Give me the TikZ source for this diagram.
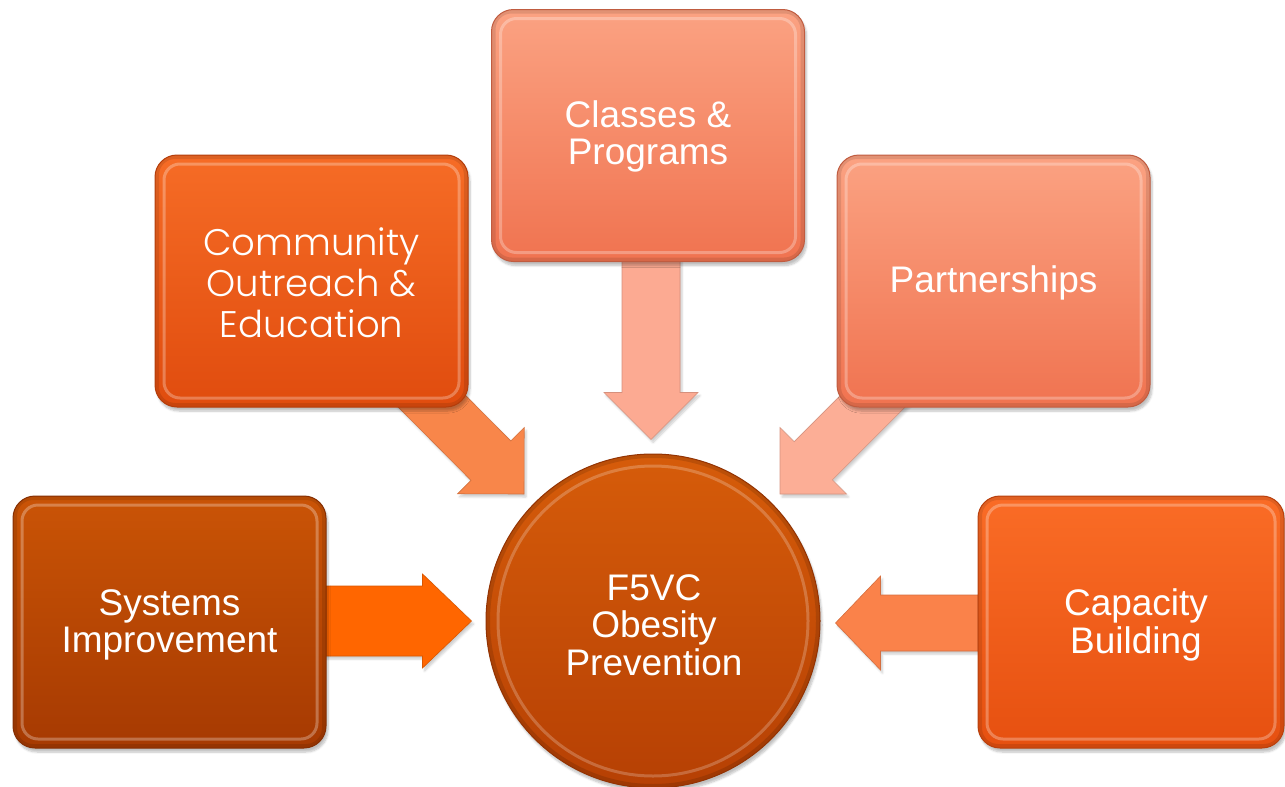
\documentclass[tikz,border=0pt]{standalone}
\usepackage{fontspec}
\setmainfont{Liberation Sans}
\newfontfamily\gothic{Poppins Light}
\usetikzlibrary{calc,shadows.blur}
\pgfdeclarelayer{background}
\pgfsetlayers{background,main}

\definecolor{comTop}{RGB}{246,108,38}
\definecolor{comBot}{RGB}{224,76,14}
\definecolor{claTop}{RGB}{251,162,130}
\definecolor{claBot}{RGB}{240,115,80}
\definecolor{sysTop}{RGB}{202,84,6}
\definecolor{sysBot}{RGB}{166,58,2}
\definecolor{capTop}{RGB}{250,108,38}
\definecolor{capBot}{RGB}{230,80,16}
\definecolor{hubTop}{RGB}{214,92,10}
\definecolor{hubBot}{RGB}{182,64,4}
\definecolor{arrSys}{RGB}{255,102,0}
\definecolor{arrCap}{RGB}{250,130,74}
\definecolor{arrCom}{RGB}{248,134,74}
\definecolor{arrCla}{RGB}{252,170,146}
\definecolor{arrPar}{RGB}{252,174,150}

\tikzset{
  boxshape/.style args={#1/#2}{
    rectangle, rounded corners=22pt, inner sep=0pt,
    minimum width=313pt, minimum height=252pt,
    top color=#1, bottom color=#2, draw=#2!80!black, line width=1pt,
    blur shadow={shadow xshift=2pt, shadow yshift=-4pt, shadow opacity=25, shadow blur steps=6},
    path picture={
      \draw[white, opacity=0.28, line width=3pt, rounded corners=16pt]
        ([shift={(9pt,-9pt)}]path picture bounding box.north west) rectangle
        ([shift={(-9pt,9pt)}]path picture bounding box.south east);
      \draw[black, opacity=0.10, line width=8pt, rounded corners=20pt]
        (path picture bounding box.north west) rectangle
        (path picture bounding box.south east);
    }
  },
  hubshape/.style={
    circle, inner sep=0pt, minimum size=334pt,
    top color=hubTop, bottom color=hubBot, draw=hubBot!80!black, line width=1pt,
    blur shadow={shadow xshift=2pt, shadow yshift=-4pt, shadow opacity=25, shadow blur steps=6},
    path picture={
      \draw[white, opacity=0.22, line width=3pt]
        (path picture bounding box.center) circle[radius=155pt];
      \draw[black, opacity=0.12, line width=8pt]
        (path picture bounding box.center) circle[radius=167pt];
    }
  },
  lbl/.style={align=center, text=white, inner sep=0pt,
    font=\fontsize{37}{37.5}\selectfont},
  blockarrow/.style={fill=#1, draw=#1!85!black, line width=0.6pt,
    blur shadow={shadow xshift=2pt, shadow yshift=-3pt, shadow opacity=20, shadow blur steps=5}}
}

% #1 start, #2 tip, #3 shaft half width, #4 head half width, #5 head length, #6 colour
\newcommand\blockarr[6]{%
  \coordinate (ba-h) at ($(#2)!#5!(#1)$);
  \path[blockarrow=#6]
    ($(#1)!#3!90:(#2)$) -- ($(ba-h)!#3!90:(#2)$) -- ($(ba-h)!#4!90:(#2)$)
    -- (#2) -- ($(ba-h)!#4!-90:(#2)$) -- ($(ba-h)!#3!-90:(#2)$)
    -- ($(#1)!#3!-90:(#2)$) -- cycle;
}

\begin{document}
\begin{tikzpicture}[x=1pt,y=-1pt]
\useasboundingbox (0,0) rectangle (1285,787);

\node[hubshape] (hub) at (653,621) {};
\node[boxshape=comTop/comBot] (com) at (311.5,281) {};
\node[boxshape=claTop/claBot] (cla) at (648,135.5) {};
\node[boxshape=claTop/claBot] (par) at (993.5,281) {};
\node[boxshape=sysTop/sysBot] (sys) at (169.5,622) {};
\node[boxshape=capTop/capBot, minimum width=306pt] (cap) at (1131,622) {};

\node[lbl] (hub-t) at ($(hub)+(1,4)$) {F5VC\\Obesity\\Prevention};
\node[lbl, font=\gothic\fontsize{37}{41}\selectfont] (com-t) at ($(com)+(0,2)$) {Community\\Outreach \&\\Education};
\node[lbl] (cla-t) at ($(cla)+(0,1)$) {Classes \&\\Programs};
\node[lbl] (par-t) at ($(par)+(0,2)$) {Partnerships};
\node[lbl] (sys-t) at ($(sys)+(0,3)$) {Systems\\Improvement};
\node[lbl] (cap-t) at ($(cap)+(5,3)$) {Capacity\\Building};

\coordinate (s1) at ($(sys.east)+(-20,-1)$);
\coordinate (e1) at ($(hub.west)+(-14,0)$);
\coordinate (s2) at ($(cap.west)+(20,1)$);
\coordinate (e2) at ($(hub.east)+(15,2)$);
\coordinate (s3) at ($(cla.south)+(3,-20)$);
\coordinate (e3) at ($(hub.north)+(-2,-14)$);
\coordinate (s4) at ($(com.south east)+(-88,-58)$);
\coordinate (e4) at ($(hub.center)+(-129,-127)$);
\coordinate (s5) at ($(par.south west)+(73,-43)$);
\coordinate (e5) at ($(hub.center)+(127,-127)$);

\begin{pgfonlayer}{background}
  \blockarr{s1}{e1}{35pt}{47pt}{49pt}{arrSys}
  \blockarr{s2}{e2}{28pt}{47pt}{45pt}{arrCap}
  \blockarr{s3}{e3}{29pt}{47pt}{47pt}{arrCla}
  \blockarr{s4}{e4}{28pt}{47pt}{47pt}{arrCom}
  \blockarr{s5}{e5}{27pt}{47pt}{47pt}{arrPar}
\end{pgfonlayer}
\end{tikzpicture}
\end{document}
